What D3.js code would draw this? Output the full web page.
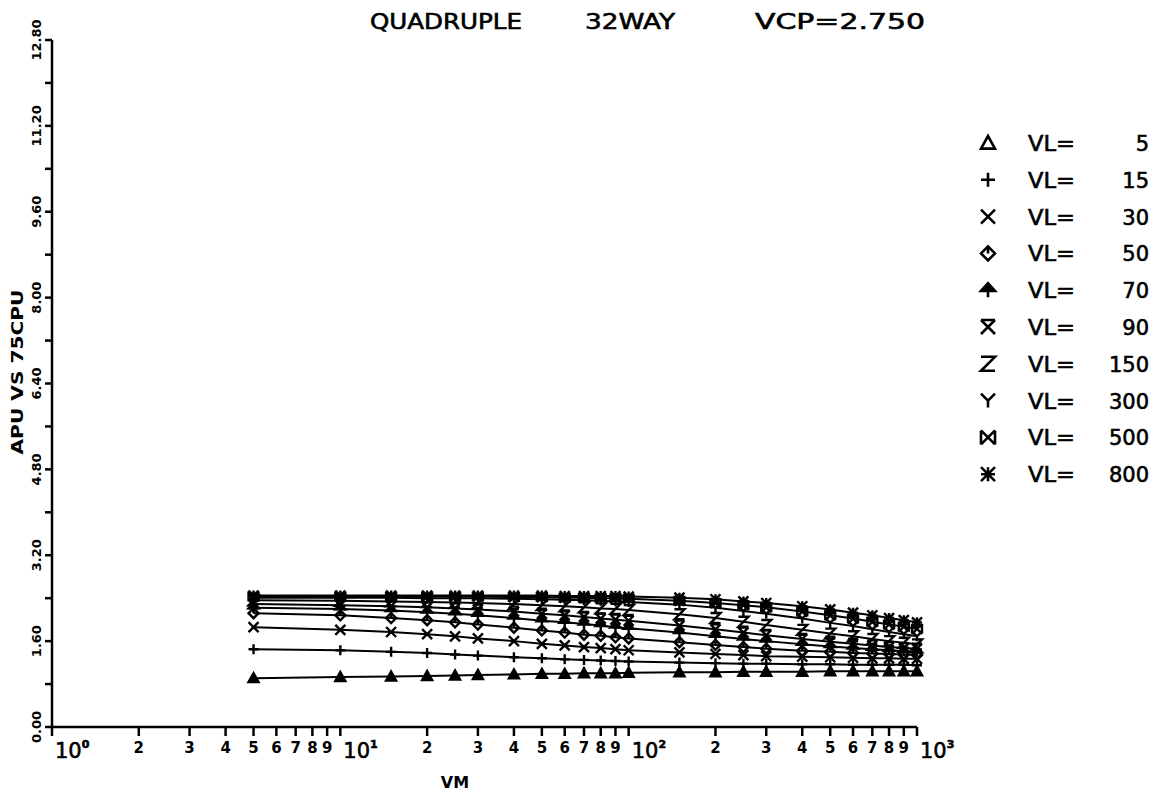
<!DOCTYPE html>
<html>
<head>
<meta charset="utf-8">
<script src="https://cdn.jsdelivr.net/npm/d3@7"></script>
<style>
  body { margin: 0; background: #fff; }
  text { font-family: "DejaVu Sans", sans-serif; fill: #000; }
  .heavy { stroke: #000; stroke-width: 0.6px; }
</style>
</head>
<body>
<div id="chart"></div>
<script>
// VM values where every curve is sampled
const vm = [5, 10, 15, 20, 25, 30, 40, 50, 60, 70, 80, 90, 100, 150, 200, 250, 300, 400, 500, 600, 700, 800, 900, 1000];

const vlLabels = ["5", "15", "30", "50", "70", "90", "150", "300", "500", "800"];
const markerTypes = ["triangle", "plus", "cross", "diamond", "arrow", "hourglass", "zee", "wye", "boxx", "star"];

const vl5   = [0.91,0.93,0.94,0.95,0.96,0.97,0.98,0.99,0.99,1.00,1.00,1.00,1.01,1.02,1.02,1.03,1.03,1.03,1.04,1.04,1.04,1.04,1.04,1.04];
const vl15  = [1.45,1.43,1.40,1.38,1.35,1.33,1.30,1.28,1.26,1.25,1.24,1.23,1.22,1.20,1.19,1.18,1.18,1.17,1.17,1.16,1.16,1.16,1.16,1.15];
const vl30  = [1.86,1.81,1.77,1.73,1.69,1.65,1.60,1.55,1.52,1.49,1.47,1.45,1.43,1.39,1.36,1.34,1.32,1.31,1.30,1.29,1.28,1.28,1.27,1.27];
const vl50  = [2.12,2.08,2.03,1.99,1.95,1.91,1.85,1.80,1.76,1.72,1.70,1.67,1.65,1.58,1.53,1.49,1.46,1.42,1.40,1.38,1.37,1.36,1.35,1.34];
const vl70  = [2.22,2.20,2.17,2.14,2.11,2.08,2.03,1.98,1.95,1.92,1.89,1.86,1.84,1.76,1.69,1.64,1.60,1.54,1.50,1.47,1.45,1.43,1.41,1.40];
const vl90  = [2.29,2.27,2.25,2.23,2.21,2.19,2.15,2.11,2.08,2.05,2.02,2.00,1.98,1.89,1.82,1.76,1.71,1.64,1.59,1.55,1.52,1.49,1.47,1.46];
const vl150 = [2.36,2.35,2.34,2.33,2.32,2.31,2.29,2.27,2.25,2.23,2.21,2.20,2.18,2.10,2.03,1.96,1.90,1.81,1.74,1.69,1.64,1.60,1.57,1.54];
const vl300 = [2.41,2.41,2.41,2.40,2.40,2.40,2.39,2.38,2.37,2.36,2.35,2.34,2.33,2.28,2.22,2.16,2.11,2.02,1.94,1.88,1.82,1.77,1.73,1.69];
const vl500 = [2.43,2.43,2.43,2.43,2.43,2.43,2.42,2.42,2.41,2.41,2.40,2.40,2.39,2.35,2.31,2.27,2.23,2.15,2.08,2.02,1.96,1.91,1.87,1.83];
const vl800 = [2.45,2.45,2.45,2.45,2.45,2.45,2.45,2.45,2.44,2.44,2.44,2.44,2.43,2.41,2.38,2.34,2.31,2.25,2.19,2.13,2.08,2.03,1.99,1.95];

const seriesValues = [vl5, vl15, vl30, vl50, vl70, vl90, vl150, vl300, vl500, vl800];

const yTickValues = [0, 1.6, 3.2, 4.8, 6.4, 8.0, 9.6, 11.2, 12.8];
const yTickLabels = ["0.00", "1.60", "3.20", "4.80", "6.40", "8.00", "9.60", "11.20", "12.80"];
const xDecades = [1, 10, 100, 1000];
const xDecadeExp = ["0", "1", "2", "3"];

const width = 1163, height = 795;

const svg = d3.select("#chart").append("svg")
  .attr("width", width)
  .attr("height", height);

const x = d3.scaleLog().domain([1, 1000]).range([52, 917]);
const y = d3.scaleLinear().domain([0, 12.8]).range([727, 40]);

// marker shapes, r = half size
function marker(type, r) {
  switch (type) {
    case "triangle": return `M0,${-r}L${r},${r * 0.8}L${-r},${r * 0.8}Z`;
    case "plus": return `M${-r},0H${r}M0,${-r}V${r}`;
    case "cross": return `M${-r},${-r}L${r},${r}M${r},${-r}L${-r},${r}`;
    case "diamond": return `M0,${-r}L${r},0L0,${r}L${-r},0ZM0,${-r}V0`;
    case "arrow": return `M0,${r}V${-r}M${-r},${r * 0.1}L0,${-r}L${r},${r * 0.1}Z`;
    case "hourglass": return `M${-r},${-r}H${r}M${-r},${-r}L${r},${r}M${r},${-r}L${-r},${r}`;
    case "zee": return `M${-r},${-r}H${r}L${-r},${r}H${r}`;
    case "wye": return `M${-r},${-r}L0,0L${r},${-r}M0,0V${r}`;
    case "boxx": return `M${-r},${-r}V${r}M${r},${-r}V${r}M${-r},${-r}L${r},${r}M${r},${-r}L${-r},${r}`;
    case "star": return `M${-r},${-r}L${r},${r}M${r},${-r}L${-r},${r}M0,${-r}V${r}M${-r},0H${r}`;
  }
}

// axes lines
svg.append("line")
  .attr("x1", x(1)).attr("x2", x(1))
  .attr("y1", y(0)).attr("y2", y(12.8))
  .attr("stroke", "#000").attr("stroke-width", 2.5);
svg.append("line")
  .attr("x1", x(1)).attr("x2", x(1000))
  .attr("y1", y(0)).attr("y2", y(0))
  .attr("stroke", "#000").attr("stroke-width", 2.5);

// y ticks every 0.8, labels every 1.6
const yMinor = d3.range(0, 12.81, 0.8);
svg.selectAll(".ytick")
  .data(yMinor)
  .enter().append("line")
  .attr("x1", x(1) - 7).attr("x2", x(1))
  .attr("y1", d => y(d)).attr("y2", d => y(d))
  .attr("stroke", "#000").attr("stroke-width", 2.5);

svg.selectAll(".ylab")
  .data(yTickValues)
  .enter().append("text")
  .attr("transform", d => `translate(41,${y(d)}) rotate(-90)`)
  .attr("text-anchor", "middle")
  .style("font-size", "13px")
  .style("font-weight", "bold")
  .text((d, i) => yTickLabels[i]);

// x ticks: 1..9 per decade
const xMinor = [];
xDecades.slice(0, 3).forEach(dec => d3.range(1, 10).forEach(k => xMinor.push(k * dec)));
xMinor.push(1000);

svg.selectAll(".xtick")
  .data(xMinor)
  .enter().append("path")
  .attr("d", d => `M${x(d)},${y(0)}v9`)
  .attr("stroke", "#000").attr("stroke-width", 2.5)
  .attr("fill", "none");

svg.selectAll(".xlab")
  .data(xMinor.filter(d => xDecades.indexOf(d) < 0))
  .enter().append("text")
  .attr("x", d => x(d))
  .attr("y", 753)
  .attr("text-anchor", "middle")
  .style("font-size", "15px")
  .style("font-weight", "bold")
  .text(d => String(d / Math.pow(10, Math.floor(Math.log10(d) + 1e-9))));

const dec = svg.selectAll(".xdec")
  .data(xDecades)
  .enter().append("text")
  .attr("class", "heavy")
  .attr("x", d => x(d) + 3)
  .attr("y", 758)
  .style("font-size", "21px");
dec.append("tspan").text("10");
dec.append("tspan")
  .attr("dy", -10)
  .style("font-size", "11px")
  .style("font-weight", "bold")
  .text((d, i) => xDecadeExp[i]);

// axis titles
svg.append("text")
  .attr("x", 455).attr("y", 788)
  .attr("text-anchor", "middle")
  .style("font-size", "16px").style("font-weight", "bold")
  .text("VM");

svg.append("text")
  .attr("transform", "translate(23,372) rotate(-90)")
  .attr("text-anchor", "middle")
  .attr("textLength", 165)
  .attr("lengthAdjust", "spacingAndGlyphs")
  .style("font-size", "16px").style("font-weight", "bold")
  .text("APU VS 75CPU");

// title pieces
const titleParts = [
  { t: "QUADRUPLE", x: 370, w: 152 },
  { t: "32WAY", x: 585, w: 90 },
  { t: "VCP=2.750", x: 755, w: 170 }
];
svg.selectAll(".title")
  .data(titleParts)
  .enter().append("text")
  .attr("class", "heavy")
  .attr("x", d => d.x).attr("y", 29)
  .attr("textLength", d => d.w)
  .attr("lengthAdjust", "spacingAndGlyphs")
  .style("font-size", "21px")
  .text(d => d.t);

// series
const line = d3.line()
  .x((d, i) => x(vm[i]))
  .y(d => y(d));

const series = svg.selectAll(".series")
  .data(seriesValues)
  .enter().append("g");

series.append("path")
  .attr("d", d => line(d))
  .attr("fill", "none")
  .attr("stroke", "#000")
  .attr("stroke-width", 2);

series.each(function (vals, si) {
  d3.select(this).selectAll(".m")
    .data(vals)
    .enter().append("path")
    .attr("transform", (d, i) => `translate(${x(vm[i])},${y(d)})`)
    .attr("d", marker(markerTypes[si], 5))
    .attr("fill", markerTypes[si] === "triangle" || markerTypes[si] === "arrow" ? "#000" : "none")
    .attr("stroke", "#000")
    .attr("stroke-width", 2.4);
});

// legend
const legend = svg.selectAll(".leg")
  .data(vlLabels)
  .enter().append("g")
  .attr("transform", (d, i) => `translate(0,${143 + i * 36.8})`);

legend.append("path")
  .attr("transform", "translate(988,0)")
  .attr("d", (d, i) => marker(markerTypes[i], 7))
  .attr("fill", (d, i) => markerTypes[i] === "arrow" ? "#000" : "none")
  .attr("stroke", "#000")
  .attr("stroke-width", 2.6);

legend.append("text")
  .attr("class", "heavy")
  .attr("x", 1028).attr("y", 8)
  .attr("textLength", 47)
  .attr("lengthAdjust", "spacingAndGlyphs")
  .style("font-size", "21px")
  .text("VL=");

legend.append("text")
  .attr("class", "heavy")
  .attr("x", 1149).attr("y", 8)
  .attr("text-anchor", "end")
  .style("font-size", "21px")
  .text(d => d);
</script>
</body>
</html>
